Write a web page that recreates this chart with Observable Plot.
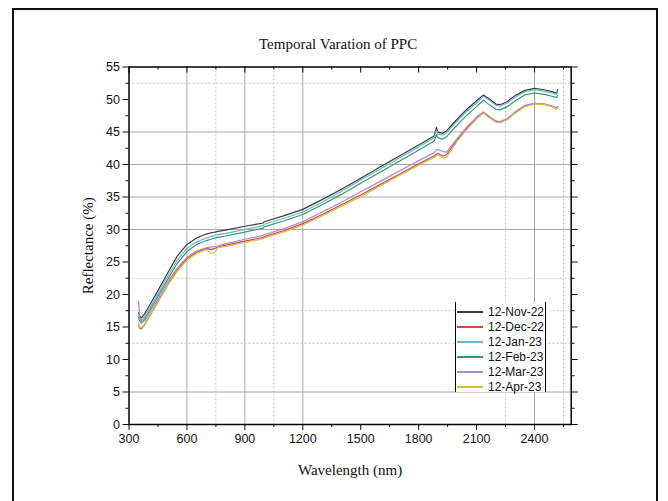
<!DOCTYPE html>
<html>
<head>
<meta charset="utf-8">
<script src="https://cdn.jsdelivr.net/npm/d3@7"></script>
<script src="https://cdn.jsdelivr.net/npm/@observablehq/plot@0.6"></script>
<style>
  html, body { margin: 0; padding: 0; background: #fff; width: 668px; height: 501px; overflow: hidden; }
  #wrap { position: relative; width: 668px; height: 501px; }
  #outer { position: absolute; left: 12px; top: 8px; width: 646px; height: 600px; border: 2px solid #111; box-sizing: border-box; }
  #chart { position: absolute; left: 0; top: 0; }
  #legend { position: absolute; left: 455px; top: 302px; width: 91px; height: 90px; background: #fff; padding-top: 2px;
            border-left: 1px solid #000; border-right: 1px solid #000; box-sizing: border-box;
            font-family: "Liberation Sans", Arial, sans-serif; font-size: 12px; color: #111; }
  .row { height: 15px; display: flex; align-items: center; }
  .sw { width: 26px; height: 2px; margin-left: 1px; margin-right: 5px; }
</style>
</head>
<body>
<div id="wrap">
  <div id="chart"></div>
  <div id="outer"></div>
  <div id="legend"></div>
</div>
<script>
const title = "Temporal Varation of PPC";
const xLabel = "Wavelength (nm)";
const yLabel = "Reflectance (%)";

const seriesNames = ["12-Nov-22", "12-Dec-22", "12-Jan-23", "12-Feb-23", "12-Mar-23", "12-Apr-23"];
const seriesColors = ["#3a3a3a", "#cc4b45", "#72b3cc", "#2f9a78", "#ad86d9", "#d9bb45"];

const wavelength = [350, 355, 365, 380, 400, 450, 500, 550, 600, 650, 700, 725, 745, 760, 800, 900, 995, 1000, 1100, 1200,
  1300, 1400, 1500, 1600, 1700, 1800, 1880, 1892, 1900, 1925, 1945, 1970, 2000, 2050, 2100, 2136, 2170, 2200, 2222, 2260,
  2300, 2350, 2400, 2450, 2490, 2515, 2520];

const nov22 = [17.2, 16.7, 16.4, 17.0, 18.0, 20.6, 23.3, 25.9, 27.7, 28.7, 29.3, 29.5, 29.6, 29.7, 29.9, 30.5, 31.0, 31.2, 32.1, 33.1,
  34.6, 36.2, 37.9, 39.6, 41.3, 43.0, 44.4, 45.7, 45.0, 44.8, 45.2, 46.0, 47.0, 48.5, 49.8, 50.7, 50.0, 49.3, 49.2, 49.7,
  50.6, 51.4, 51.7, 51.5, 51.2, 51.0, 51.5];
const dec22 = [15.3, 14.8, 14.7, 15.3, 16.3, 18.9, 21.5, 23.8, 25.5, 26.5, 27.1, 26.9, 27.1, 27.3, 27.6, 28.2, 28.8, 28.9, 29.8, 30.9,
  32.3, 33.8, 35.3, 36.9, 38.5, 40.1, 41.3, 41.6, 41.7, 41.3, 41.5, 42.6, 43.8, 45.6, 47.1, 48.0, 47.2, 46.6, 46.5, 47.0,
  48.0, 49.0, 49.4, 49.3, 49.0, 48.7, 48.9];
const jan23 = [16.8, 16.2, 16.0, 16.6, 17.6, 20.1, 22.8, 25.3, 27.1, 28.1, 28.7, 28.9, 29.1, 29.2, 29.4, 30.0, 30.6, 30.8, 31.7, 32.7,
  34.2, 35.9, 37.6, 39.3, 41.0, 42.7, 44.1, 45.3, 44.7, 44.5, 44.9, 45.7, 46.7, 48.2, 49.5, 50.5, 49.8, 49.1, 49.0, 49.5,
  50.4, 51.2, 51.5, 51.3, 51.0, 50.8, 51.2];
const feb23 = [16.5, 15.9, 15.6, 16.2, 17.2, 19.7, 22.3, 24.8, 26.6, 27.7, 28.3, 28.5, 28.7, 28.8, 29.0, 29.6, 30.2, 30.4, 31.3, 32.3,
  33.8, 35.4, 37.1, 38.8, 40.5, 42.2, 43.6, 44.6, 44.1, 43.9, 44.3, 45.1, 46.1, 47.6, 48.9, 49.9, 49.1, 48.5, 48.4, 48.9,
  49.8, 50.7, 51.0, 50.8, 50.5, 50.3, 50.6];
const mar23 = [19.0, 16.6, 15.8, 15.9, 16.8, 19.3, 21.9, 24.1, 25.7, 26.7, 27.2, 27.3, 27.4, 27.5, 27.8, 28.5, 29.1, 29.2, 30.1, 31.2,
  32.7, 34.2, 35.8, 37.4, 39.0, 40.6, 41.8, 42.3, 42.3, 42.0, 41.9, 42.9, 44.0, 45.8, 47.3, 48.1, 47.3, 46.7, 46.6, 47.1,
  48.1, 49.1, 49.4, 49.3, 49.0, 48.7, 48.9];
const apr23 = [15.6, 15.0, 14.8, 15.4, 16.4, 18.8, 21.4, 23.6, 25.3, 26.3, 26.9, 26.3, 26.5, 27.2, 27.4, 28.0, 28.6, 28.7, 29.6, 30.7,
  32.1, 33.6, 35.1, 36.7, 38.3, 39.9, 41.1, 41.3, 41.5, 41.0, 41.1, 42.3, 43.6, 45.4, 47.0, 47.9, 47.1, 46.5, 46.4, 46.9,
  47.9, 48.9, 49.3, 49.2, 48.9, 48.5, 48.7];

const xMajorTicks = [300, 600, 900, 1200, 1500, 1800, 2100, 2400];
const xMinorTicks = [450, 750, 1050, 1350, 1650, 1950, 2250, 2550];
const yMajorTicks = [0, 5, 10, 15, 20, 25, 30, 35, 40, 45, 50, 55];
const yMinorTicks = [2.5, 7.5, 12.5, 17.5, 22.5, 27.5, 32.5, 37.5, 42.5, 47.5, 52.5];
const xGridSolid = [600, 900, 1200, 2400];
const xGridDotted = [750, 1050, 2250, 2550];
const yGridSolid = [5, 30, 35, 40, 45];
const yGridDotted = [12.5, 17.5, 22.5, 52.5];

const seriesValues = [nov22, dec22, jan23, feb23, mar23, apr23];
const data = seriesNames.flatMap((name, i) => wavelength.map((w, j) => ({wl: w, r: seriesValues[i][j], s: name})));

const W = 668, H = 501;
const mL = 128.5, mR = 97.3, mT = 66.5, mB = 77;
const innerH = H - mT - mB;

const serif = "'Liberation Serif', 'Times New Roman', serif";

const chart = Plot.plot({
  width: W, height: H,
  marginLeft: mL, marginRight: mR, marginTop: mT, marginBottom: mB,
  style: {fontFamily: "'Liberation Sans', Arial, sans-serif", fontSize: "12.5px", color: "#111", background: "transparent"},
  x: {domain: [300, 2590]},
  y: {domain: [0, 55]},
  color: {domain: seriesNames, range: seriesColors},
  marks: [
    Plot.ruleX(xGridSolid, {stroke: "#a8a8a8", strokeWidth: 1}),
    Plot.ruleX(xGridDotted, {stroke: "#c8c8c8", strokeWidth: 1, strokeDasharray: "2,2"}),
    Plot.ruleY(yGridSolid, {stroke: "#a8a8a8", strokeWidth: 1}),
    Plot.ruleY(yGridDotted, {stroke: "#c8c8c8", strokeWidth: 1, strokeDasharray: "2,2"}),
    Plot.lineY(data, {x: "wl", y: "r", z: "s", stroke: "s", strokeWidth: 1.2}),
    Plot.frame({stroke: "#000", strokeWidth: 1.5}),
    Plot.axisX({ticks: xMajorTicks, tickSize: 6, tickPadding: 4, label: null, fontSize: 12.5, tickFormat: d => String(d)}),
    Plot.axisX({ticks: xMinorTicks, tickSize: 3, tickFormat: () => "", label: null}),
    Plot.axisY({ticks: yMajorTicks, tickSize: 6, tickPadding: 3, label: null, fontSize: 12.5, tickFormat: d => String(d)}),
    Plot.axisY({ticks: yMinorTicks, tickSize: 3, tickFormat: () => "", label: null}),
    Plot.axisY({anchor: "right", ticks: yMajorTicks, tickSize: 6, tickFormat: () => "", label: null}),
    Plot.axisY({anchor: "right", ticks: yMinorTicks, tickSize: 3, tickFormat: () => "", label: null}),
    Plot.ruleX(xMajorTicks, {stroke: "#000", strokeWidth: 1, insetBottom: innerH - 6}),
    Plot.ruleX(xMinorTicks, {stroke: "#000", strokeWidth: 1, insetBottom: innerH - 3}),
    Plot.text([title], {frameAnchor: "top", lineAnchor: "middle", textAnchor: "middle", dy: -23, dx: -12, fontFamily: serif, fontSize: 15, fill: "#111"}),
    Plot.text([xLabel], {frameAnchor: "bottom", lineAnchor: "middle", textAnchor: "middle", dy: 46, fontFamily: serif, fontSize: 15, fill: "#111"}),
    Plot.text([yLabel], {frameAnchor: "left", lineAnchor: "middle", textAnchor: "middle", dx: -41, rotate: -90, fontFamily: serif, fontSize: 15, fill: "#111"})
  ]
});
document.getElementById("chart").appendChild(chart);

const legend = document.getElementById("legend");
seriesNames.forEach((name, i) => {
  const row = document.createElement("div");
  row.className = "row";
  const sw = document.createElement("div");
  sw.className = "sw";
  sw.style.background = seriesColors[i];
  const t = document.createElement("span");
  t.textContent = name;
  row.appendChild(sw);
  row.appendChild(t);
  legend.appendChild(row);
});
</script>
</body>
</html>
